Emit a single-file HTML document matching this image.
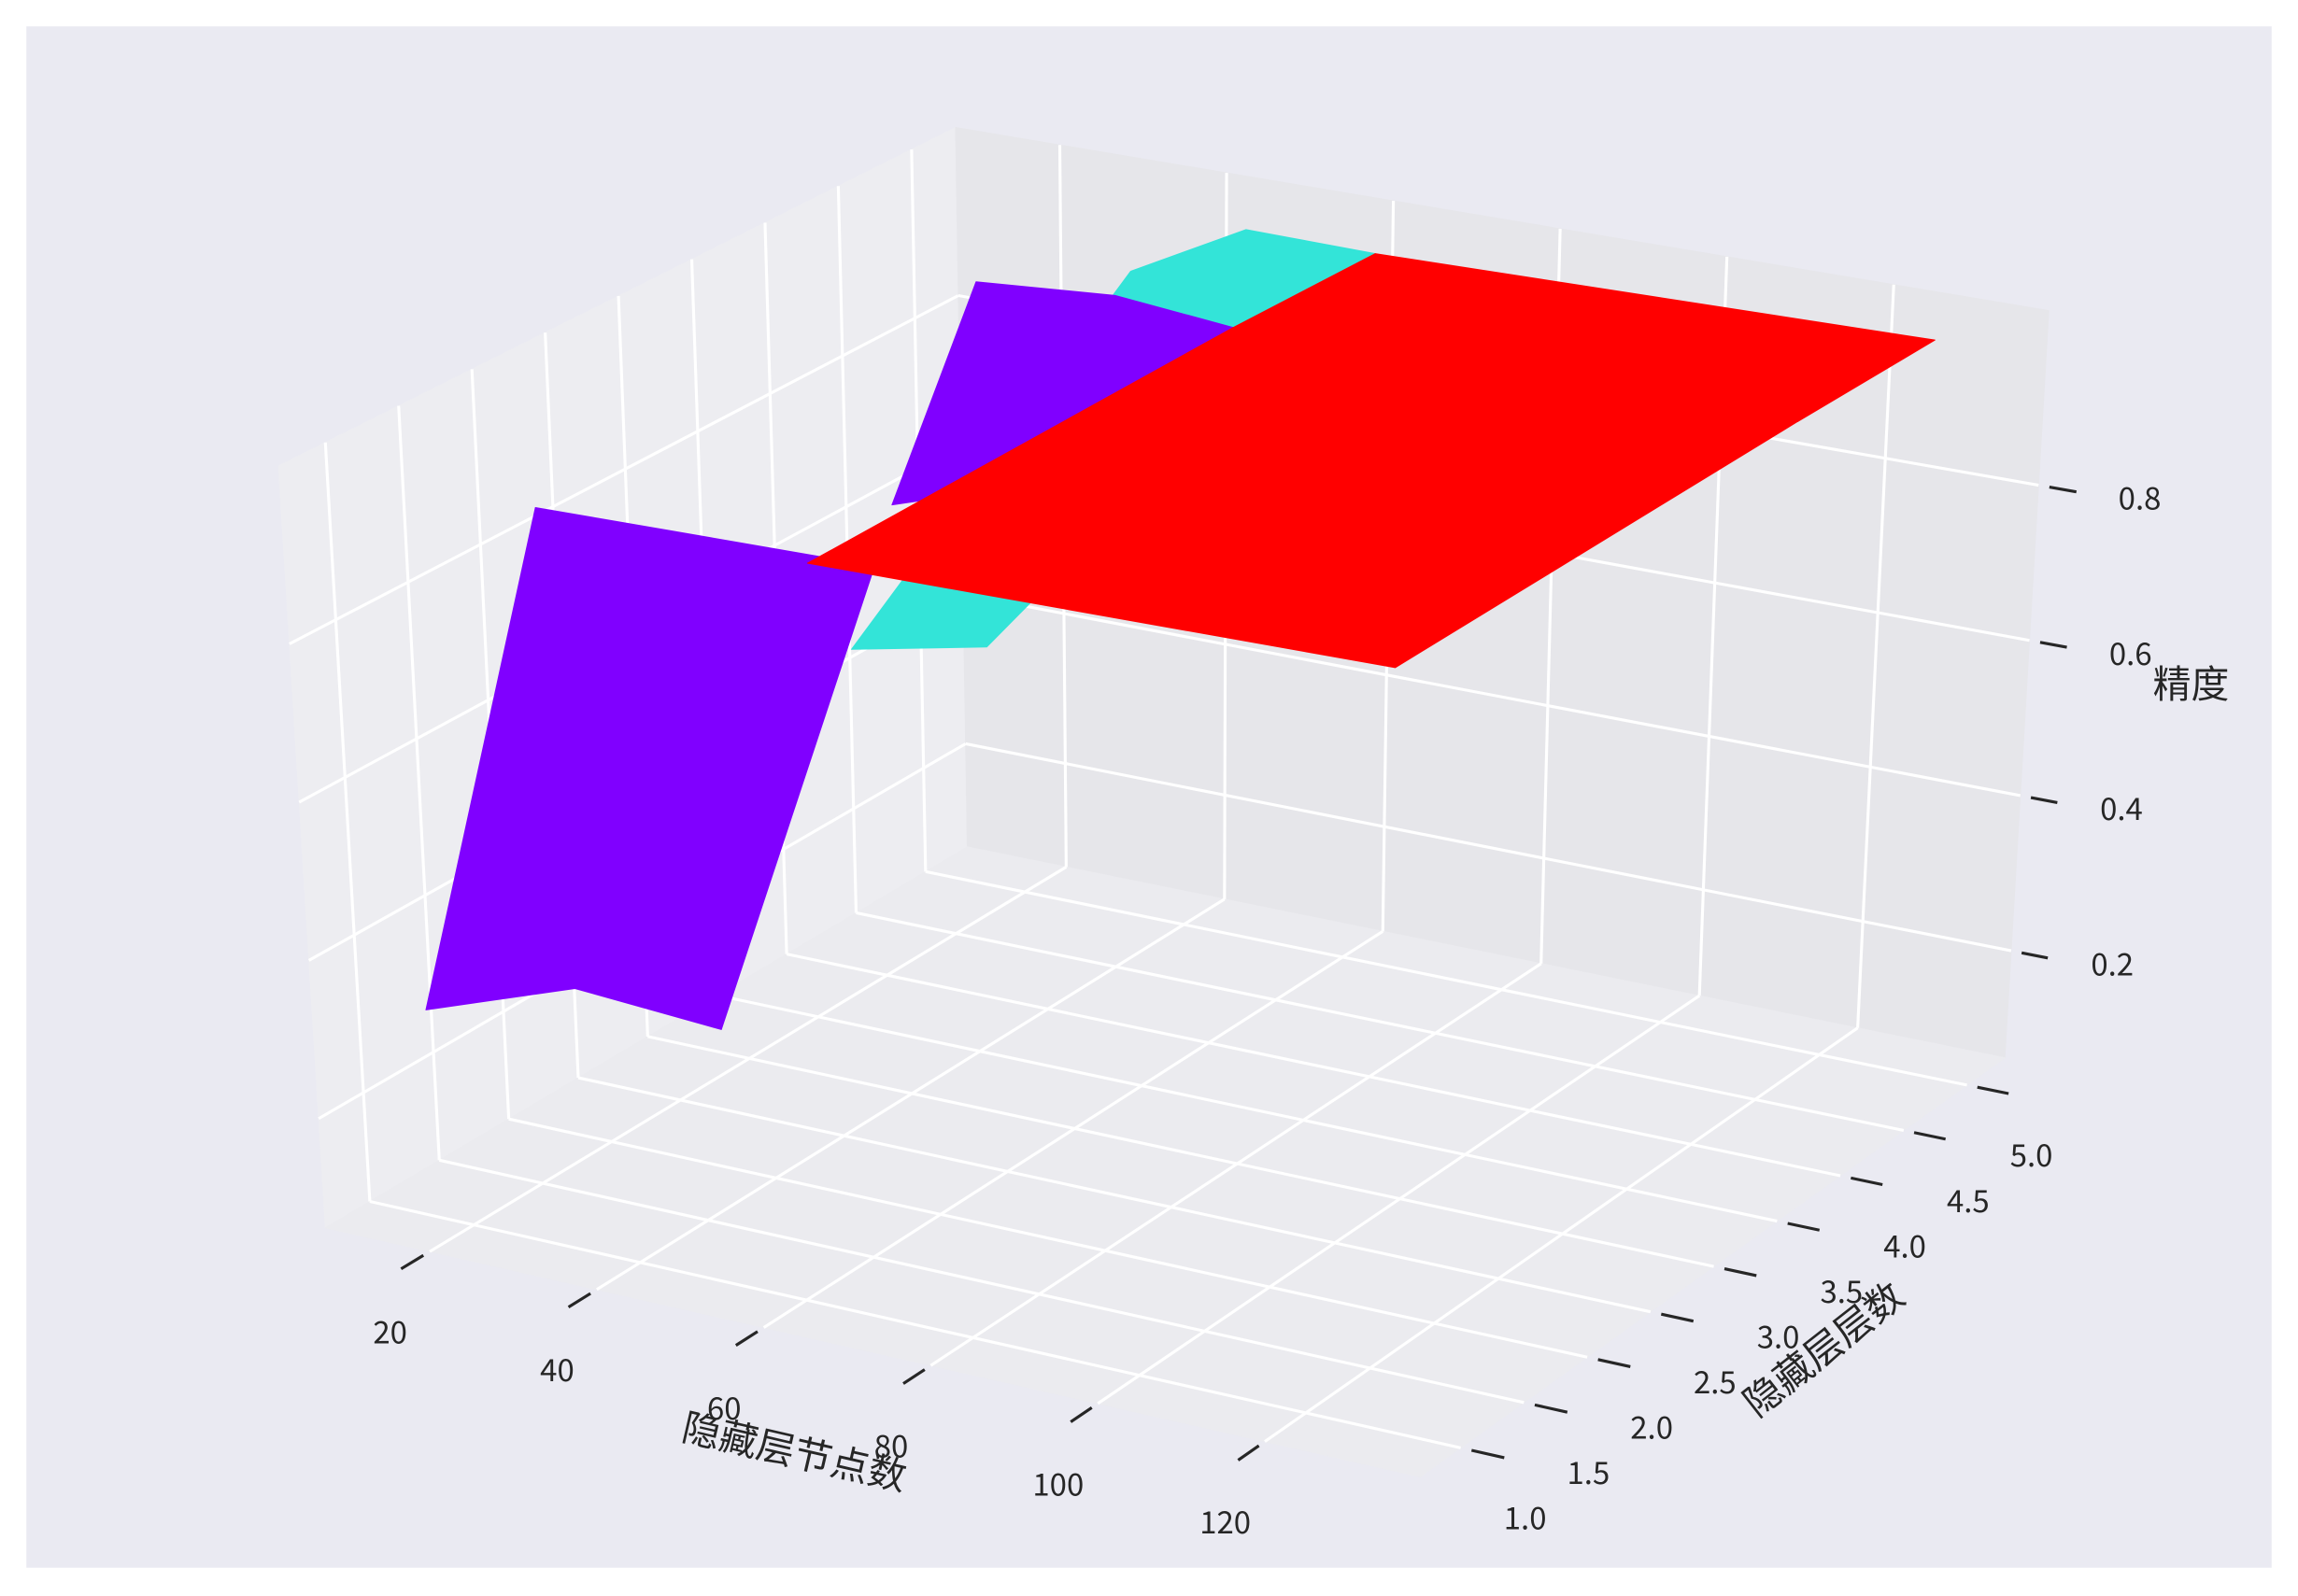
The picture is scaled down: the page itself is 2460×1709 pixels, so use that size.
<!DOCTYPE html>
<html><head><meta charset="utf-8"><style>
html,body{margin:0;padding:0;background:#fff;}
svg{display:block;}
text{font-family:"Liberation Sans","Noto Sans CJK SC",sans-serif;fill:#262626;}
.tk{font-family:"Noto Sans CJK SC","WenQuanYi Zen Hei",sans-serif;font-size:21px;}
.lb{font-family:"Noto Sans CJK SC","WenQuanYi Zen Hei",sans-serif;font-size:26px;}
</style></head><body>
<svg id="chart" width="2460" height="1709" viewBox="0 0 1568 1089.3" xmlns="http://www.w3.org/2000/svg">
<rect x="0" y="0" width="1568" height="1089.3" fill="#ffffff"/>
<rect x="18" y="18" width="1532" height="1052" fill="#EAEAF2"/>
<g id="panes"></g>
<g id="grid"></g>
<g id="ticks"></g>
<g id="surface"></g>
<g id="labels"></g>
<text class="lb" x="540" y="1000" text-anchor="middle" transform="rotate(13 540 1000)">隐藏层节点数</text>
<text class="lb" x="1250" y="928" text-anchor="middle" transform="rotate(-38 1250 928)">隐藏层层数</text>
<text class="lb" x="1495" y="476" text-anchor="middle">精度</text>
</svg>
<script>
// axis ranges
const xRange = [7.5, 138.6];
const yRange = [0.68, 5.3];
const zRange = [0.062, 1.025];
// ticks
const xTicks = [20, 40, 60, 80, 100, 120];
const xTickLabels = ["20", "40", "60", "80", "100", "120"];
const yTicks = [1.0, 1.5, 2.0, 2.5, 3.0, 3.5, 4.0, 4.5, 5.0];
const yTickLabels = ["1.0", "1.5", "2.0", "2.5", "3.0", "3.5", "4.0", "4.5", "5.0"];
const zTicks = [0.2, 0.4, 0.6, 0.8];
const zTickLabels = ["0.2", "0.4", "0.6", "0.8"];
// surface faces (node count, layer count, accuracy)
const faceNodes = [
  [51, 67, 63, 47.5, 44],
  [15, 39.2, 63, 64, 55.2],
  [15.6, 33.6, 50.9, 54, 30, 14.2],
  [63, 131, 130, 63],
  [63, 130, 130, 63]
];
const faceLayers = [
  [2, 2, 5, 5, 4.4],
  [5, 4.57, 4, 2.5, 2.06],
  [1, 1, 1, 2, 2, 2],
  [1, 1, 4, 4],
  [4, 4, 5, 5]
];
const faceAcc = [
  [0.75, 0.783, 0.99, 0.993, 0.99],
  [0.863, 0.933, 0.99, 0.933, 0.933],
  [0.323, 0.389, 0.375, 0.86, 0.86, 0.86],
  [0.972, 0.963, 0.99, 0.99],
  [0.99, 0.99, 1.0, 0.99]
];
const faceColors = ["#33E4D8", "#8000FF", "#8000FF", "#FF0000", "#FF0000"];

// projection (box corners in screen space)
const F00=[222,838],F10=[969,1008],F11=[1368,722],F01=[660,578];
const T00=[190,318],T10=[967,443],T11=[1398,212],T01=[652,87];
function bil(a,b,c,d,u,v){return [(1-u)*(1-v)*a[0]+u*(1-v)*b[0]+u*v*c[0]+(1-u)*v*d[0],(1-u)*(1-v)*a[1]+u*(1-v)*b[1]+u*v*c[1]+(1-u)*v*d[1]];}
function P(x,y,z){
  const u=(x-xRange[0])/(xRange[1]-xRange[0]);
  const v=(y-yRange[0])/(yRange[1]-yRange[0]);
  const w=(z-zRange[0])/(zRange[1]-zRange[0]);
  const f=bil(F00,F10,F11,F01,u,v), t=bil(T00,T10,T11,T01,u,v);
  return [f[0]*(1-w)+t[0]*w, f[1]*(1-w)+t[1]*w];
}
const NS="http://www.w3.org/2000/svg";
function poly(g,pts,fill,name){
  const p=document.createElementNS(NS,'polygon');
  p.setAttribute('points',pts.map(q=>q[0].toFixed(1)+','+q[1].toFixed(1)).join(' '));
  p.setAttribute('fill',fill);
  p.setAttribute('stroke',fill);
  p.setAttribute('stroke-width','0.6');
  p.setAttribute('stroke-linejoin','round');
  
  
  g.appendChild(p);
}
function line(g,a,b,stroke,sw,name){
  const l=document.createElementNS(NS,'line');
  l.setAttribute('x1',a[0]);l.setAttribute('y1',a[1]);l.setAttribute('x2',b[0]);l.setAttribute('y2',b[1]);
  l.setAttribute('stroke',stroke);l.setAttribute('stroke-width',sw);
  
  
  g.appendChild(l);
}
function txt(g,p,s,name){
  const t=document.createElementNS(NS,'text');
  t.setAttribute('x',p[0]);t.setAttribute('y',p[1]);
  t.setAttribute('class','tk');t.setAttribute('text-anchor','middle');t.setAttribute('dominant-baseline','middle');
  t.textContent=s;
  
  
  g.appendChild(t);
}
const [x0,x1]=xRange,[y0,y1]=yRange,[z0,z1]=zRange;
const panes=document.getElementById('panes');
poly(panes,[P(x0,y0,z0),P(x0,y1,z0),P(x0,y1,z1),P(x0,y0,z1)],'#EDEDF1','left-pane');
poly(panes,[P(x0,y1,z0),P(x1,y1,z0),P(x1,y1,z1),P(x0,y1,z1)],'#E6E6EA','back-pane');
poly(panes,[P(x0,y0,z0),P(x1,y0,z0),P(x1,y1,z0),P(x0,y1,z0)],'#EBEBEF','floor-pane');
const grid=document.getElementById('grid'), ticks=document.getElementById('ticks'), labels=document.getElementById('labels');
const GW=2, W='#ffffff', dy=(y1-y0), dx=(x1-x0);
xTicks.forEach((x,i)=>{
  line(grid,P(x,y0,z0),P(x,y1,z0),W,GW,'floor-gridline-x');
  line(grid,P(x,y1,z0),P(x,y1,z1),W,GW,'back-gridline-x');
  line(ticks,P(x,y0-0.01*dy,z0),P(x,y0-0.045*dy,z0),'#262626',2,'x-tick');
  const e=P(x,y0,z0);
  txt(labels,[e[0]-27,e[1]+57],xTickLabels[i],'x-tick-label');
});
yTicks.forEach((y,i)=>{
  line(grid,P(x0,y,z0),P(x1,y,z0),W,GW,'floor-gridline-y');
  line(grid,P(x0,y,z0),P(x0,y,z1),W,GW,'left-gridline-y');
  line(ticks,P(x1+0.01*dx,y,z0),P(x1+0.04*dx,y,z0),'#262626',2,'y-tick');
  const e=P(x1,y,z0);
  txt(labels,[e[0]+44,e[1]+50],yTickLabels[i],'y-tick-label');
});
zTicks.forEach((z,i)=>{
  line(grid,P(x0,y0,z),P(x0,y1,z),W,GW,'left-gridline-z');
  line(grid,P(x0,y1,z),P(x1,y1,z),W,GW,'back-gridline-z');
  line(ticks,P(x1+0.01*dx,y1,z),P(x1+0.035*dx,y1,z),'#262626',2,'z-tick');
  const e=P(x1,y1,z);
  txt(labels,[e[0]+69,e[1]+11],zTickLabels[i],'z-tick-label');
});
const surf=document.getElementById('surface');
faceNodes.forEach((xs,i)=>{
  const pts=xs.map((x,j)=>P(x,faceLayers[i][j],faceAcc[i][j]));
  poly(surf,pts,faceColors[i],'surface-face');
});
</script>
</body></html>
